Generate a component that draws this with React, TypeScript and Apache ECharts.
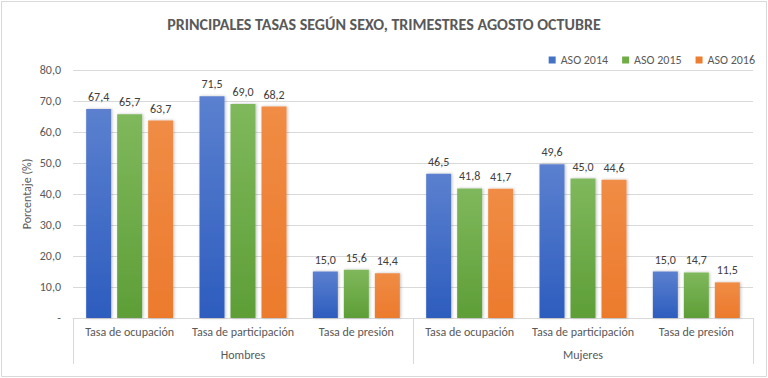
import React, { useEffect, useRef } from "react";
import * as echarts from "echarts";

const categories = [
  "Tasa de ocupación",
  "Tasa de participación",
  "Tasa de presión",
  "Tasa de ocupación",
  "Tasa de participación",
  "Tasa de presión",
];
const groups = ["Hombres", "Mujeres"];
const seriesNames = ["ASO 2014", "ASO 2015", "ASO 2016"];
const aso2014 = [67.4, 71.5, 15.0, 46.5, 49.6, 15.0];
const aso2015 = [65.7, 69.0, 15.6, 41.8, 45.0, 14.7];
const aso2016 = [63.7, 68.2, 14.4, 41.7, 44.6, 11.5];
const yTicks = { min: 0, max: 80, interval: 10 };

const FONT = "'Liberation Sans Narrow', Carlito, 'Liberation Sans', sans-serif";

const grad = (top: string, bottom: string) =>
  new echarts.graphic.LinearGradient(0, 0, 0, 1, [
    { offset: 0, color: top },
    { offset: 1, color: bottom },
  ]);

export default function App() {
  const ref = useRef<HTMLDivElement>(null);
  useEffect(() => {
    if (!ref.current) return;
    const chart = echarts.init(ref.current, undefined, { renderer: "svg" });
    const colors = [
      grad("#5B80CF", "#2D5DBE"),
      grad("#7FB85C", "#5E9E37"),
      grad("#F08C45", "#EC7A2C"),
    ];
    const legendColors = ["#4472C4", "#70AD47", "#ED7D31"];
    const datasets = [aso2014, aso2015, aso2016];
    chart.setOption({
      animation: false,
      backgroundColor: "#ffffff",
      title: {
        text: "PRINCIPALES TASAS SEGÚN SEXO, TRIMESTRES AGOSTO OCTUBRE",
        left: "center",
        top: 11,
        textStyle: { fontFamily: FONT, fontSize: 16, fontWeight: "bold", color: "#595959" },
      },
      legend: {
        right: 8,
        top: 49,
        itemWidth: 7,
        itemHeight: 7,
        itemGap: 14,
        icon: "rect",
        textStyle: { fontFamily: FONT, fontSize: 12, color: "#595959" },
        data: seriesNames.map((n, i) => ({ name: n, itemStyle: { color: legendColors[i] } })),
      },
      grid: { left: 73, right: 15, top: 70, bottom: 60 },
      xAxis: [
        {
          type: "category",
          data: categories,
          axisLine: { lineStyle: { color: "#d9d9d9" } },
          axisTick: { show: false },
          axisLabel: { fontFamily: FONT, fontSize: 12, color: "#595959", margin: 8, interval: 0 },
        },
        {
          type: "category",
          data: groups,
          position: "bottom",
          axisLine: { show: false },
          axisTick: { show: true, length: 46, lineStyle: { color: "#d9d9d9" } },
          axisLabel: { fontFamily: FONT, fontSize: 12, color: "#595959", margin: 31 },
        },
      ],
      yAxis: {
        type: "value",
        min: yTicks.min,
        max: yTicks.max,
        interval: yTicks.interval,
        name: "Porcentaje (%)",
        nameLocation: "middle",
        nameGap: 40,
        nameMoveOverlap: false,
        nameTextStyle: { fontFamily: FONT, fontSize: 12, color: "#595959" },
        axisLine: { show: false },
        axisTick: { show: false },
        axisLabel: {
          fontFamily: FONT,
          fontSize: 12,
          color: "#595959",
          margin: 12,
          formatter: (v: number) => (v === 0 ? "-" : v.toFixed(1).replace(".", ",")),
        },
        splitLine: { lineStyle: { color: "#d9d9d9" } },
      },
      series: datasets.map((d, i) => ({
        name: seriesNames[i],
        type: "bar",
        xAxisIndex: 0,
        data: d,
        barWidth: 25,
        barGap: "24%",
        itemStyle: { color: colors[i], shadowColor: "rgba(0,0,0,0.25)", shadowBlur: 3, shadowOffsetX: 1 },
        label: {
          show: true,
          position: "top",
          distance: 6,
          fontFamily: FONT,
          fontSize: 12,
          color: "#404040",
          formatter: (p: any) => p.value.toFixed(1).replace(".", ","),
        },
      })),
      graphic: [
        {
          type: "rect",
          shape: { x: 1.5, y: 1.5, width: 765, height: 375 },
          style: { fill: "none", stroke: "#d9d9d9", lineWidth: 1 },
          silent: true,
        },
      ],
    });
    return () => chart.dispose();
  }, []);
  return (
    <div
      ref={ref}
      style={{ position: "fixed", left: 0, top: 0, width: 768, height: 378 }}
    />
  );
}
